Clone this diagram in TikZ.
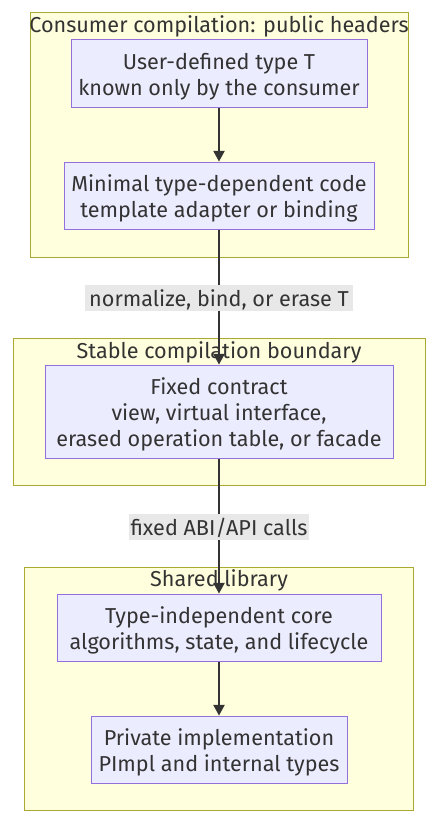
\documentclass[tikz,border=0pt]{standalone}
\usepackage{fontspec}
\setmainfont{Fira Sans}
\usetikzlibrary{arrows.meta}
\definecolor{clfill}{HTML}{FFFFDE}
\definecolor{cldraw}{HTML}{AAAA33}
\definecolor{ndfill}{HTML}{ECECFF}
\definecolor{nddraw}{HTML}{9370DB}
\definecolor{txt}{HTML}{333333}
\definecolor{lblbg}{HTML}{E8E8E8}
\newcommand{\lines}[1]{\raisebox{-2.5pt}[\height][\depth]{\setlength{\tabcolsep}{0pt}\begin{tabular}{c}#1\end{tabular}}}
\begin{document}
\begin{tikzpicture}[x=0.75pt,y=-0.75pt,
  cluster/.style={draw=cldraw,fill=clfill,line width=0.75pt},
  cltitle/.style={text=txt,font=\fontsize{16.2}{19.5}\selectfont,inner sep=0pt,anchor=base},
  box/.style={draw=nddraw,fill=ndfill,line width=0.75pt,text=txt,align=center,
    font=\fontsize{16.2}{19.5}\selectfont,inner sep=0pt,minimum height=50.25pt},
  lbl/.style={fill=lblbg,text=txt,font=\fontsize{16.2}{19.5}\selectfont,inner sep=0pt,minimum height=18.75pt},
  edge/.style={draw=txt,line width=1pt,-{Triangle[length=8pt,width=8.5pt]}}]
\useasboundingbox (0,0) rectangle (439,824);
\fill[white] (0,0) rectangle (439,824);
% clusters
\draw[cluster] (30,13) rectangle (408,257);
\draw[cluster] (13,338) rectangle (425,485);
\draw[cluster] (24,567) rectangle (413,810);
\node[cltitle] (t1) at (219,33) {Consumer compilation: public headers};
\node[cltitle] (t2) at (219,358) {Stable compilation boundary};
\node[cltitle] (t3) at (219,586.5) {Shared library};
% nodes
\node[box,minimum width=222pt] (A) at (219,73.5) {\lines{User-defined type T\\known only by the consumer}};
\node[box,minimum width=232.5pt] (B) at (219,195.5) {\lines{Minimal type-dependent code\\template adapter or binding}};
\node[box,minimum width=261pt,minimum height=69.75pt] (C) at (219,411.5) {\lines{Fixed contract\\view, virtual interface,\\erased operation table, or facade}};
\node[box,minimum width=243pt] (D) at (219,627.5) {\lines{Type-independent core\\algorithms, state, and lifecycle}};
\node[box,minimum width=192pt] (E) at (219,749.5) {\lines{Private implementation\\PImpl and internal types}};
% edges
\draw[edge] (A) -- (B);
\draw[edge] (B) -- (C);
\draw[edge] (C) -- (D);
\draw[edge] (D) -- (E);
% labels
\node[lbl,minimum width=201pt] (l1) at (219,297.5) {\lines{normalize, bind, or erase T}};
\node[lbl,minimum width=135pt] (l2) at (219,526.5) {\lines{fixed ABI/API calls}};
\end{tikzpicture}
\end{document}
